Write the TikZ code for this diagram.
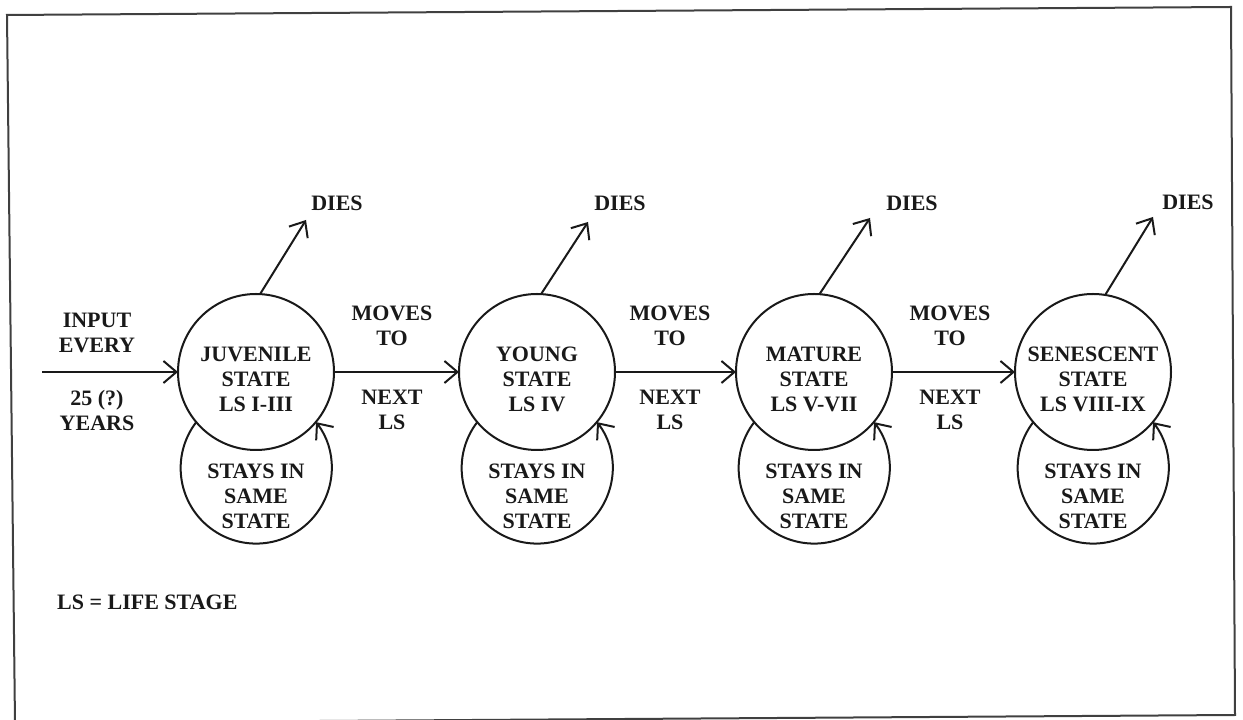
\documentclass[tikz,border=0pt]{standalone}
\usepackage{fontspec}
\setmainfont{Liberation Serif}
\usetikzlibrary{arrows.meta}
\begin{document}
\begin{tikzpicture}[x=1pt,y=1pt,
  ln/.style={line width=2pt, draw=black!90},
  arr/.style={ln, -{Straight Barb[length=13pt,width=22pt,line width=2pt]}},
  statec/.style={circle, ln, minimum size=156pt, inner sep=0pt, outer sep=0pt},
  lbl/.style={font=\fontsize{22}{25}\selectfont\bfseries, align=center, inner sep=0pt, text=black!90},
]
\useasboundingbox (0,0) rectangle (1243,720);
\draw[line width=2pt, draw=black!75] (7,705) -- (1231,713) -- (1235,5) -- (15,-3) -- cycle;

% states
\node[statec] (juv) at (256,348) {};
\node[statec] (young) at (537,348) {};
\node[statec] (mat) at (814,348) {};
\node[statec] (sen) at (1093,348) {};

\node[lbl] (juvt) at (256,341) {JUVENILE\\STATE\\LS I-III};
\node[lbl] (youngt) at (537,341) {YOUNG\\STATE\\LS IV};
\node[lbl] (matt) at (814,341) {MATURE\\STATE\\LS V-VII};
\node[lbl] (sent) at (1093,341) {SENESCENT\\STATE\\LS VIII-IX};

% self loops
\foreach \s/\x in {juv/256, young/537, mat/814, sen/1093}{
  \draw[arr] (\s.220) arc[start angle=142.5, end angle=397.5, radius=75.5pt];
  \node[lbl] (\s loop) at (\x,224) {STAYS IN\\SAME\\STATE};
}

% dies
\coordinate (jd) at (306,500);
\coordinate (yd) at (588,498);
\coordinate (md) at (870,502);
\coordinate (sd) at (1153,503);
\draw[arr] (juv.87) -- (jd);
\draw[arr] (young.87) -- (yd);
\draw[arr] (mat.86) -- (md);
\draw[arr] (sen.81) -- (sd);
\node[lbl] (jdl) at (337,517) {DIES};
\node[lbl] (ydl) at (620,517) {DIES};
\node[lbl] (mdl) at (912,517) {DIES};
\node[lbl] (sdl) at (1188,518) {DIES};

% input
\coordinate (in) at (42,348);
\draw[arr] (in) -- (juv.west);
\node[lbl] (inA) at (97,387.5) {INPUT\\EVERY};
\node[lbl] (inB) at (97,310) {25 (?)\\YEARS};

% transitions
\draw[arr] (juv.east) -- (young.west);
\draw[arr] (young.east) -- (mat.west);
\draw[arr] (mat.east) -- (sen.west);
\node[lbl] (m1) at (392,394) {MOVES\\TO};
\node[lbl] (n1) at (392,310) {NEXT\\LS};
\node[lbl] (m2) at (670,394) {MOVES\\TO};
\node[lbl] (n2) at (670,310) {NEXT\\LS};
\node[lbl] (m3) at (950,394) {MOVES\\TO};
\node[lbl] (n3) at (950,310) {NEXT\\LS};

\node[lbl, anchor=west] (key) at (57,118) {LS = LIFE STAGE};
\end{tikzpicture}
\end{document}
